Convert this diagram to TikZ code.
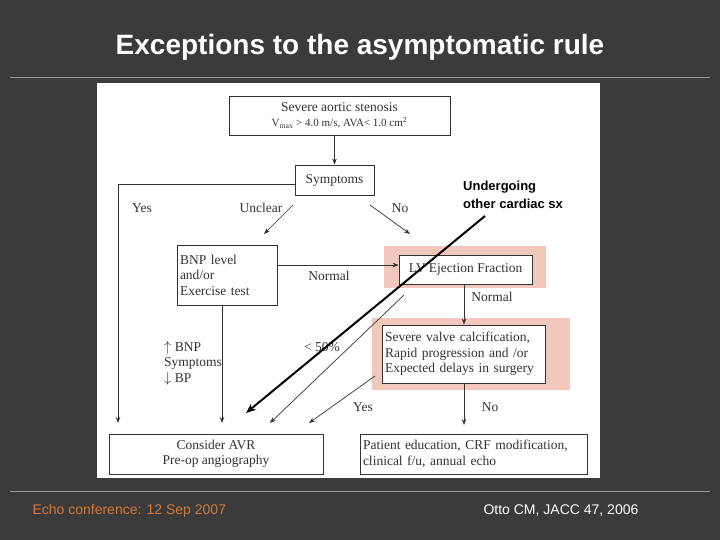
\documentclass[tikz,border=0pt]{standalone}
\usepackage{fontspec}
\setmainfont{Liberation Serif}
\newfontfamily\arialf{Liberation Sans}
\usetikzlibrary{arrows.meta}
\definecolor{bg}{HTML}{3B3B3B}
\definecolor{pinkbg}{HTML}{F2C8BC}
\definecolor{ink}{HTML}{333333}
\definecolor{footor}{HTML}{D07A3A}
\tikzset{
 box/.style={draw=ink,line width=0.8pt,fill=white,inner sep=0pt,text=ink,font=\fontsize{13.5}{15.5}\selectfont},
 lbl/.style={text=ink,font=\fontsize{13.5}{15.5}\selectfont,inner sep=0pt},
 arr/.style={draw=ink,line width=0.7pt,-{Stealth[length=6pt,width=4.5pt]}},
 ln/.style={draw=ink,line width=0.7pt}
}
\begin{document}
\begin{tikzpicture}[x=1pt,y=-1pt]
\useasboundingbox (0,0) rectangle (720,540);
\fill[bg] (0,0) rectangle (720,540);
\node[text=white,font=\arialf\bfseries\fontsize{28}{32}\selectfont] (title) at (360,47) {Exceptions to the asymptomatic rule};
\draw[gray!80,line width=0.8pt] (10,77) -- (710,77);
\draw[gray!80,line width=0.8pt] (10,491) -- (710,491);
\node[text=footor,font=\arialf\fontsize{14}{16}\selectfont,anchor=west] (f1) at (29,511) {Echo conference: 12 Sep 2007};
\node[text=white,font=\arialf\fontsize{14}{16}\selectfont,anchor=west] (f2) at (480,511) {Otto CM, JACC 47, 2006};
\fill[white] (97,83) rectangle (600,478);
\fill[pinkbg] (384,246) rectangle (546,288);
\fill[pinkbg] (372,318) rectangle (570,390);
\node[box,minimum width=221pt,minimum height=39pt,align=center] (top) at (339.5,115.5) {Severe aortic stenosis\\[-1pt]{\fontsize{11}{12}\selectfont V\textsubscript{max} > 4.0 m/s, AVA< 1.0 cm\textsuperscript{2}}};
\node[box,minimum width=79pt,minimum height=30pt] (sym) at (334.5,180) {Symptoms};
\node[box,minimum width=100pt,minimum height=60pt,align=left,text width=94pt] (bnp) at (227,275) {BNP level\\and/or\\Exercise test};
\node[box,minimum width=133pt,minimum height=29pt] (lv) at (465.5,269.5) {LV Ejection Fraction};
\node[box,minimum width=163pt,minimum height=58pt,align=left,text width=157pt] (calc) at (463.5,354) {Severe valve calcification,\\Rapid progression and /or\\Expected delays in surgery};
\node[box,minimum width=214pt,minimum height=40pt,align=center] (avr) at (216,454) {Consider AVR\\Pre-op angiography};
\node[box,minimum width=227pt,minimum height=40pt,align=left,text width=221pt] (pat) at (473.5,454) {Patient education, CRF modification,\\clinical f/u, annual echo};
\draw[arr] (top.south -| sym.north) -- (sym.north);
\coordinate (yc) at (118,184);
\draw[arr] (sym.west |- yc) -- (yc) -- (118,423);
\coordinate (u1) at (293,205); \coordinate (u2) at (264,234);
\draw[arr] (u1) -- (u2);
\coordinate (n1) at (370,205); \coordinate (n2) at (410,234);
\draw[arr] (n1) -- (n2);
\draw[arr] (bnp.east |- 0,265) -- (lv.west |- 0,265);
\draw[arr] (lv.south -| 464,0) -- (calc.north -| 464,0);
\draw[arr] (calc.south -| 464,0) -- (464,425);
\draw[arr] (bnp.south -| 222,0) -- (222,423);
\coordinate (p1) at (404,295); \coordinate (p2) at (270,423);
\draw[arr] (p1) -- (p2);
\coordinate (y1) at (375,376); \coordinate (y2) at (309,423);
\draw[arr] (y1) -- (y2);
\node[lbl] (lyes) at (142,208) {Yes};
\node[lbl] (lunc) at (261,208) {Unclear};
\node[lbl] (lno) at (400,208) {No};
\node[lbl] (lnorm) at (329,276) {Normal};
\node[lbl] (lnorm2) at (492,297) {Normal};
\node[lbl] (l50) at (322,347) {< 50\%};
\node[lbl] (lyes2) at (363,407) {Yes};
\node[lbl] (lno2) at (490,407) {No};
\node[lbl,anchor=west,align=left] (lsym) at (164,363) {$\uparrow$ BNP\\Symptoms\\$\downarrow$ BP};
\node[anchor=west,align=left,inner sep=0pt,font=\arialf\bfseries\fontsize{13}{18}\selectfont] (und) at (463,195) {Undergoing\\other cardiac sx};
\coordinate (b1) at (485,216); \coordinate (b2) at (246,413);
\draw[line width=2pt,-{Stealth[length=10pt,width=8pt]}] (b1) -- (b2);
\end{tikzpicture}
\end{document}
